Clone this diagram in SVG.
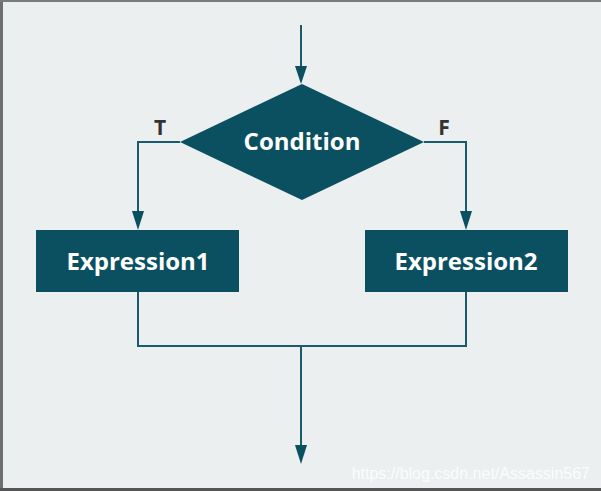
<svg xmlns="http://www.w3.org/2000/svg" width="601" height="491" viewBox="0 0 601 491">
<style>
.node{fill:#0b5061}
.lbl{font-family:"Open Sans","Noto Sans",sans-serif;font-weight:bold;font-size:24px;fill:#ffffff;text-anchor:middle}
.edge{fill:none;stroke:#1a5b6b;stroke-width:2}
.tf{font-family:"Open Sans","Noto Sans",sans-serif;font-weight:bold;font-size:21px;fill:#333333;text-anchor:middle}
</style>
<rect x="0" y="0" width="601" height="491" fill="#ebeff0"/>
<rect x="0" y="0" width="3" height="491" fill="#6e6e6e"/>
<rect x="0" y="0" width="601" height="2" fill="#7a7a7a"/>
<rect x="0" y="488" width="601" height="3" fill="#555555"/>
<g id="connectors">
<path class="edge" d="M301,25 V67"/>
<path d="M295,66 L307,66 L301,84 Z" fill="#0b5061"/>
<path class="edge" d="M180,142 H138 V212"/>
<path d="M132,211 L144,211 L138,230 Z" fill="#0b5061"/>
<path class="edge" d="M424,142 H466 V212"/>
<path d="M460,211 L472,211 L466,230 Z" fill="#0b5061"/>
<path class="edge" d="M138,292 V346 H466 V292"/>
<path class="edge" d="M301,346 V446"/>
<path d="M295,445 L307,445 L301,464 Z" fill="#0b5061"/>
</g>
<g id="condition">
<polygon class="node" points="302,84 424,142 302,200 180,142"/>
<text class="lbl" x="302" y="150">Condition</text>
</g>
<g id="label-T"><text class="tf" x="160" y="135">T</text></g>
<g id="label-F"><text class="tf" x="444" y="135">F</text></g>
<g id="expression1">
<rect class="node" x="36" y="230" width="203" height="62"/>
<text class="lbl" x="138" y="270">Expression1</text>
</g>
<g id="expression2">
<rect class="node" x="365" y="230" width="203" height="62"/>
<text class="lbl" x="466" y="270">Expression2</text>
</g>
<text x="590" y="479" font-family="Liberation Sans, Arial, sans-serif" font-size="16" fill="#ffffff" fill-opacity="0.85" text-anchor="end">https://blog.csdn.net/Assassin567</text>
</svg>
